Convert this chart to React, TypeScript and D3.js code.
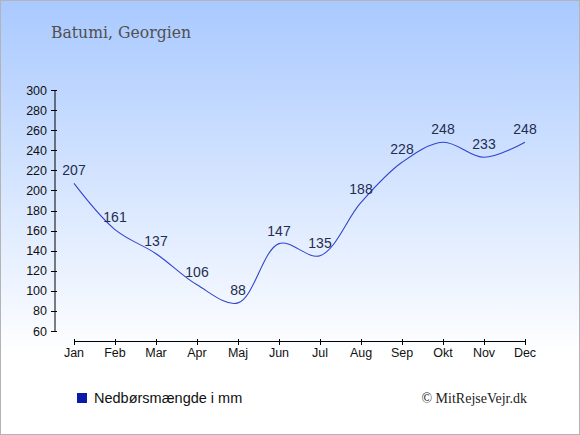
import React from "react";
import * as d3 from "d3";

const months = ["Jan", "Feb", "Mar", "Apr", "Maj", "Jun", "Jul", "Aug", "Sep", "Okt", "Nov", "Dec"];
const precipitation = [207, 161, 137, 106, 88, 147, 135, 188, 228, 248, 233, 248];
const yTicks = [60, 80, 100, 120, 140, 160, 180, 200, 220, 240, 260, 280, 300];
const title = "Batumi, Georgien";
const legendLabel = "Nedbørsmængde i mm";
const credit = "© MitRejseVejr.dk";

const W = 580;
const H = 435;

export default function App() {
  const x = d3.scalePoint<string>().domain(months).range([74, 525]);
  const y = d3.scaleLinear().domain([60, 300]).range([331, 90]);
  const line = d3
    .line<number>()
    .x((_, i) => x(months[i]) as number)
    .y((d) => y(d))
    .curve(d3.curveCatmullRom.alpha(0.5));
  const sans = "'Liberation Sans', Arial, sans-serif";
  return (
    <svg
      width={W}
      height={H}
      style={{ position: "absolute", left: 0, top: 0 }}
      xmlns="http://www.w3.org/2000/svg"
    >
      <defs>
        <linearGradient id="bg" x1="0" y1="0" x2="0" y2="1">
          <stop offset="0" stopColor="#a9c9ff" />
          <stop offset="0.82" stopColor="#ffffff" />
          <stop offset="1" stopColor="#ffffff" />
        </linearGradient>
      </defs>
      <rect x={0.5} y={0.5} width={W - 1} height={H - 1} fill="url(#bg)" stroke="#b4b4b4" strokeWidth={1} />
      <text
        x={51}
        y={38}
        fontFamily="'DejaVu Serif', serif"
        fontSize={16.5}
        fill="#505050"
        textLength={140}
        lengthAdjust="spacingAndGlyphs"
      >
        {title}
      </text>

      {/* y axis */}
      <line x1={55} x2={55} y1={y(300)} y2={y(60)} stroke="#000" strokeWidth={1} />
      {yTicks.map((t) => (
        <g key={t}>
          <line x1={51} x2={57} y1={Math.round(y(t)) + 0.5} y2={Math.round(y(t)) + 0.5} stroke="#000" />
          <text x={47} y={y(t) + 4.5} textAnchor="end" fontFamily={sans} fontSize={12.5} fill="#111">
            {t}
          </text>
        </g>
      ))}

      {/* x axis */}
      <line x1={x("Jan")} x2={x("Dec")} y1={341.5} y2={341.5} stroke="#000" strokeWidth={1} />
      {months.map((m) => (
        <g key={m}>
          <line x1={(x(m) as number) + 0.5} x2={(x(m) as number) + 0.5} y1={339} y2={345} stroke="#000" />
          <text x={x(m) as number} y={357} textAnchor="middle" fontFamily={sans} fontSize={12.5} fill="#111">
            {m}
          </text>
        </g>
      ))}

      <path d={line(precipitation) || ""} fill="none" stroke="#3344cc" strokeWidth={1.1} />
      {precipitation.map((v, i) => (
        <text
          key={i}
          x={x(months[i]) as number}
          y={y(v) - 8}
          textAnchor="middle"
          fontFamily={sans}
          fontSize={14}
          fill="#1f2d50"
        >
          {v}
        </text>
      ))}

      {/* legend */}
      <rect x={77} y={393} width={10} height={10} fill="#0a1aaa" />
      <text x={94} y={403} fontFamily={sans} fontSize={14.5} fill="#111">
        {legendLabel}
      </text>
      <text x={527} y={403} textAnchor="end" fontFamily="'Liberation Serif', 'Times New Roman', serif" fontSize={14} fill="#222">
        {credit}
      </text>
    </svg>
  );
}
